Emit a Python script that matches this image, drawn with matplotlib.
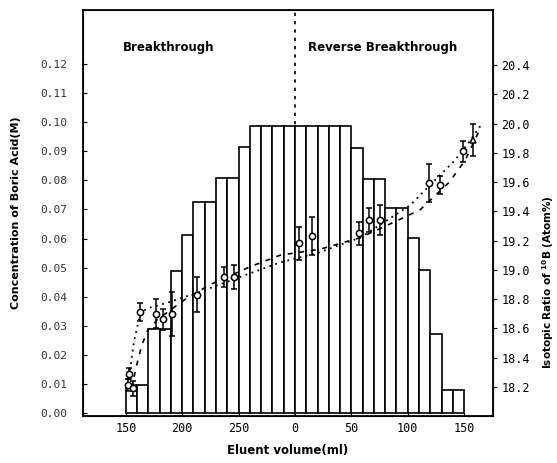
import matplotlib.pyplot as plt

# x positions: breakthrough volume (ml) up to 300, then 300 + reverse volume
bar_left = [150, 160, 170, 180, 190, 200, 210, 220, 230, 240, 250, 260, 270, 280, 290,
            300, 310, 320, 330, 340, 350, 360, 370, 380, 390, 400, 410, 420, 430, 440]
bar_conc = [0.0096, 0.0096, 0.0289, 0.0289, 0.0489, 0.0612, 0.0724, 0.0724, 0.0807, 0.0807,
            0.0915, 0.0988, 0.0988, 0.0988, 0.0988,
            0.0988, 0.0988, 0.0988, 0.0988, 0.0988, 0.0910, 0.0803, 0.0803, 0.0705, 0.0705,
            0.0603, 0.0491, 0.0271, 0.0079, 0.0079]

pt_x = [152, 156, 153, 163, 177, 183, 191, 213, 237, 246, 304, 315, 357, 366, 375, 419, 429, 449]
pt_r = [18.21, 18.19, 18.29, 18.71, 18.70, 18.66, 18.70, 18.83, 18.95, 18.95,
        19.18, 19.23, 19.25, 19.34, 19.34, 19.59, 19.58, 19.81]
pt_err = [0.04, 0.05, 0.04, 0.06, 0.10, 0.07, 0.15, 0.12, 0.07, 0.08,
          0.11, 0.13, 0.08, 0.08, 0.10, 0.13, 0.06, 0.07]
tri_x = [458]
tri_r = [19.89]
tri_err = [0.11]

dot_x = [153, 157, 163, 171, 189, 216, 251, 287, 322, 358, 384, 402, 420, 442, 455, 466]
dot_r = [18.27, 18.50, 18.71, 18.74, 18.78, 18.85, 18.95, 19.05, 19.12, 19.22,
         19.35, 19.44, 19.58, 19.75, 19.88, 20.00]
dash_x = [155, 160, 164, 169, 178, 203, 225, 260, 287, 322, 358, 389, 411, 437, 451, 464]
dash_r = [18.19, 18.36, 18.48, 18.58, 18.66, 18.80, 18.90, 19.02, 19.10, 19.14, 19.22,
          19.33, 19.41, 19.60, 19.75, 19.96]

xticks = [150, 200, 250, 300, 350, 400, 450]
xticklabels = ["150", "200", "250", "0", "50", "100", "150"]
yticks = [0.00, 0.01, 0.02, 0.03, 0.04, 0.05, 0.06, 0.07, 0.08, 0.09, 0.10, 0.11, 0.12]
rticks = [18.2, 18.4, 18.6, 18.8, 19.0, 19.2, 19.4, 19.6, 19.8, 20.0, 20.2, 20.4]

fig = plt.figure(figsize=(5.57, 4.63), dpi=100)
ax = fig.add_axes([0.149, 0.1015, 0.736, 0.8765])
ax.axvline(300, color="k", linestyle=(0, (2, 3)), linewidth=1.2, zorder=0)
ax.bar(bar_left, bar_conc, width=10, align="edge", facecolor="white",
       edgecolor="black", linewidth=1.2, zorder=1)
ax.set_xlim(112, 475.6)
ax.set_ylim(-0.001, 0.1385)
ax.set_xticks(xticks)
ax.set_xticklabels(xticklabels, family="DejaVu Sans Mono", fontsize=8.5)
ax.set_yticks(yticks)
ax.set_yticklabels(["%.2f" % v for v in yticks], family="DejaVu Sans Mono",
                   fontsize=8, color="#333333")
ax.tick_params(axis="y", direction="in", length=3, pad=11)
ax.tick_params(axis="x", direction="in", length=3, pad=4)
for s in ax.spines.values():
    s.set_linewidth(1.3)

ax2 = ax.twinx()
ax2.set_ylim(18.0, 20.775)
ax2.plot(dot_x, dot_r, color="k", linestyle=(0, (1, 2.5)), linewidth=1.3)
ax2.plot(dash_x, dash_r, color="k", linestyle=(0, (3, 4)), linewidth=1.2)
ax2.errorbar(pt_x, pt_r, yerr=pt_err, fmt="o", ms=4.5, mfc="white", mec="k",
             mew=1.1, ecolor="k", elinewidth=1.1, capsize=2)
ax2.errorbar(tri_x, tri_r, yerr=tri_err, fmt="^", ms=5, mfc="white", mec="k",
             mew=1.1, ecolor="k", elinewidth=1.1, capsize=2)
ax2.set_yticks(rticks)
ax2.set_yticklabels(["%.1f" % v for v in rticks], family="DejaVu Sans Mono", fontsize=8.5)
ax2.tick_params(axis="y", direction="out", length=3, pad=3)

ax.text(0.0976, 0.909, "Breakthrough", transform=ax.transAxes, fontsize=8.5,
        fontweight="bold", va="center")
ax.text(0.549, 0.909, "Reverse Breakthrough", transform=ax.transAxes, fontsize=8.5,
        fontweight="bold", va="center")

ax.set_xlabel("Eluent volume(ml)", fontsize=8.5, fontweight="bold", labelpad=7)
ax.set_ylabel("Concentration of Boric Acid(M)", fontsize=8, fontweight="bold", labelpad=14)
ax2.set_ylabel(r"Isotopic Ratio of $^{\mathbf{10}}$B (Atom%)", fontsize=7.5,
               fontweight="bold", rotation=90, va="center")
ax2.yaxis.set_label_coords(1.134, 0.33)

fig.savefig("out.png", dpi=100)
